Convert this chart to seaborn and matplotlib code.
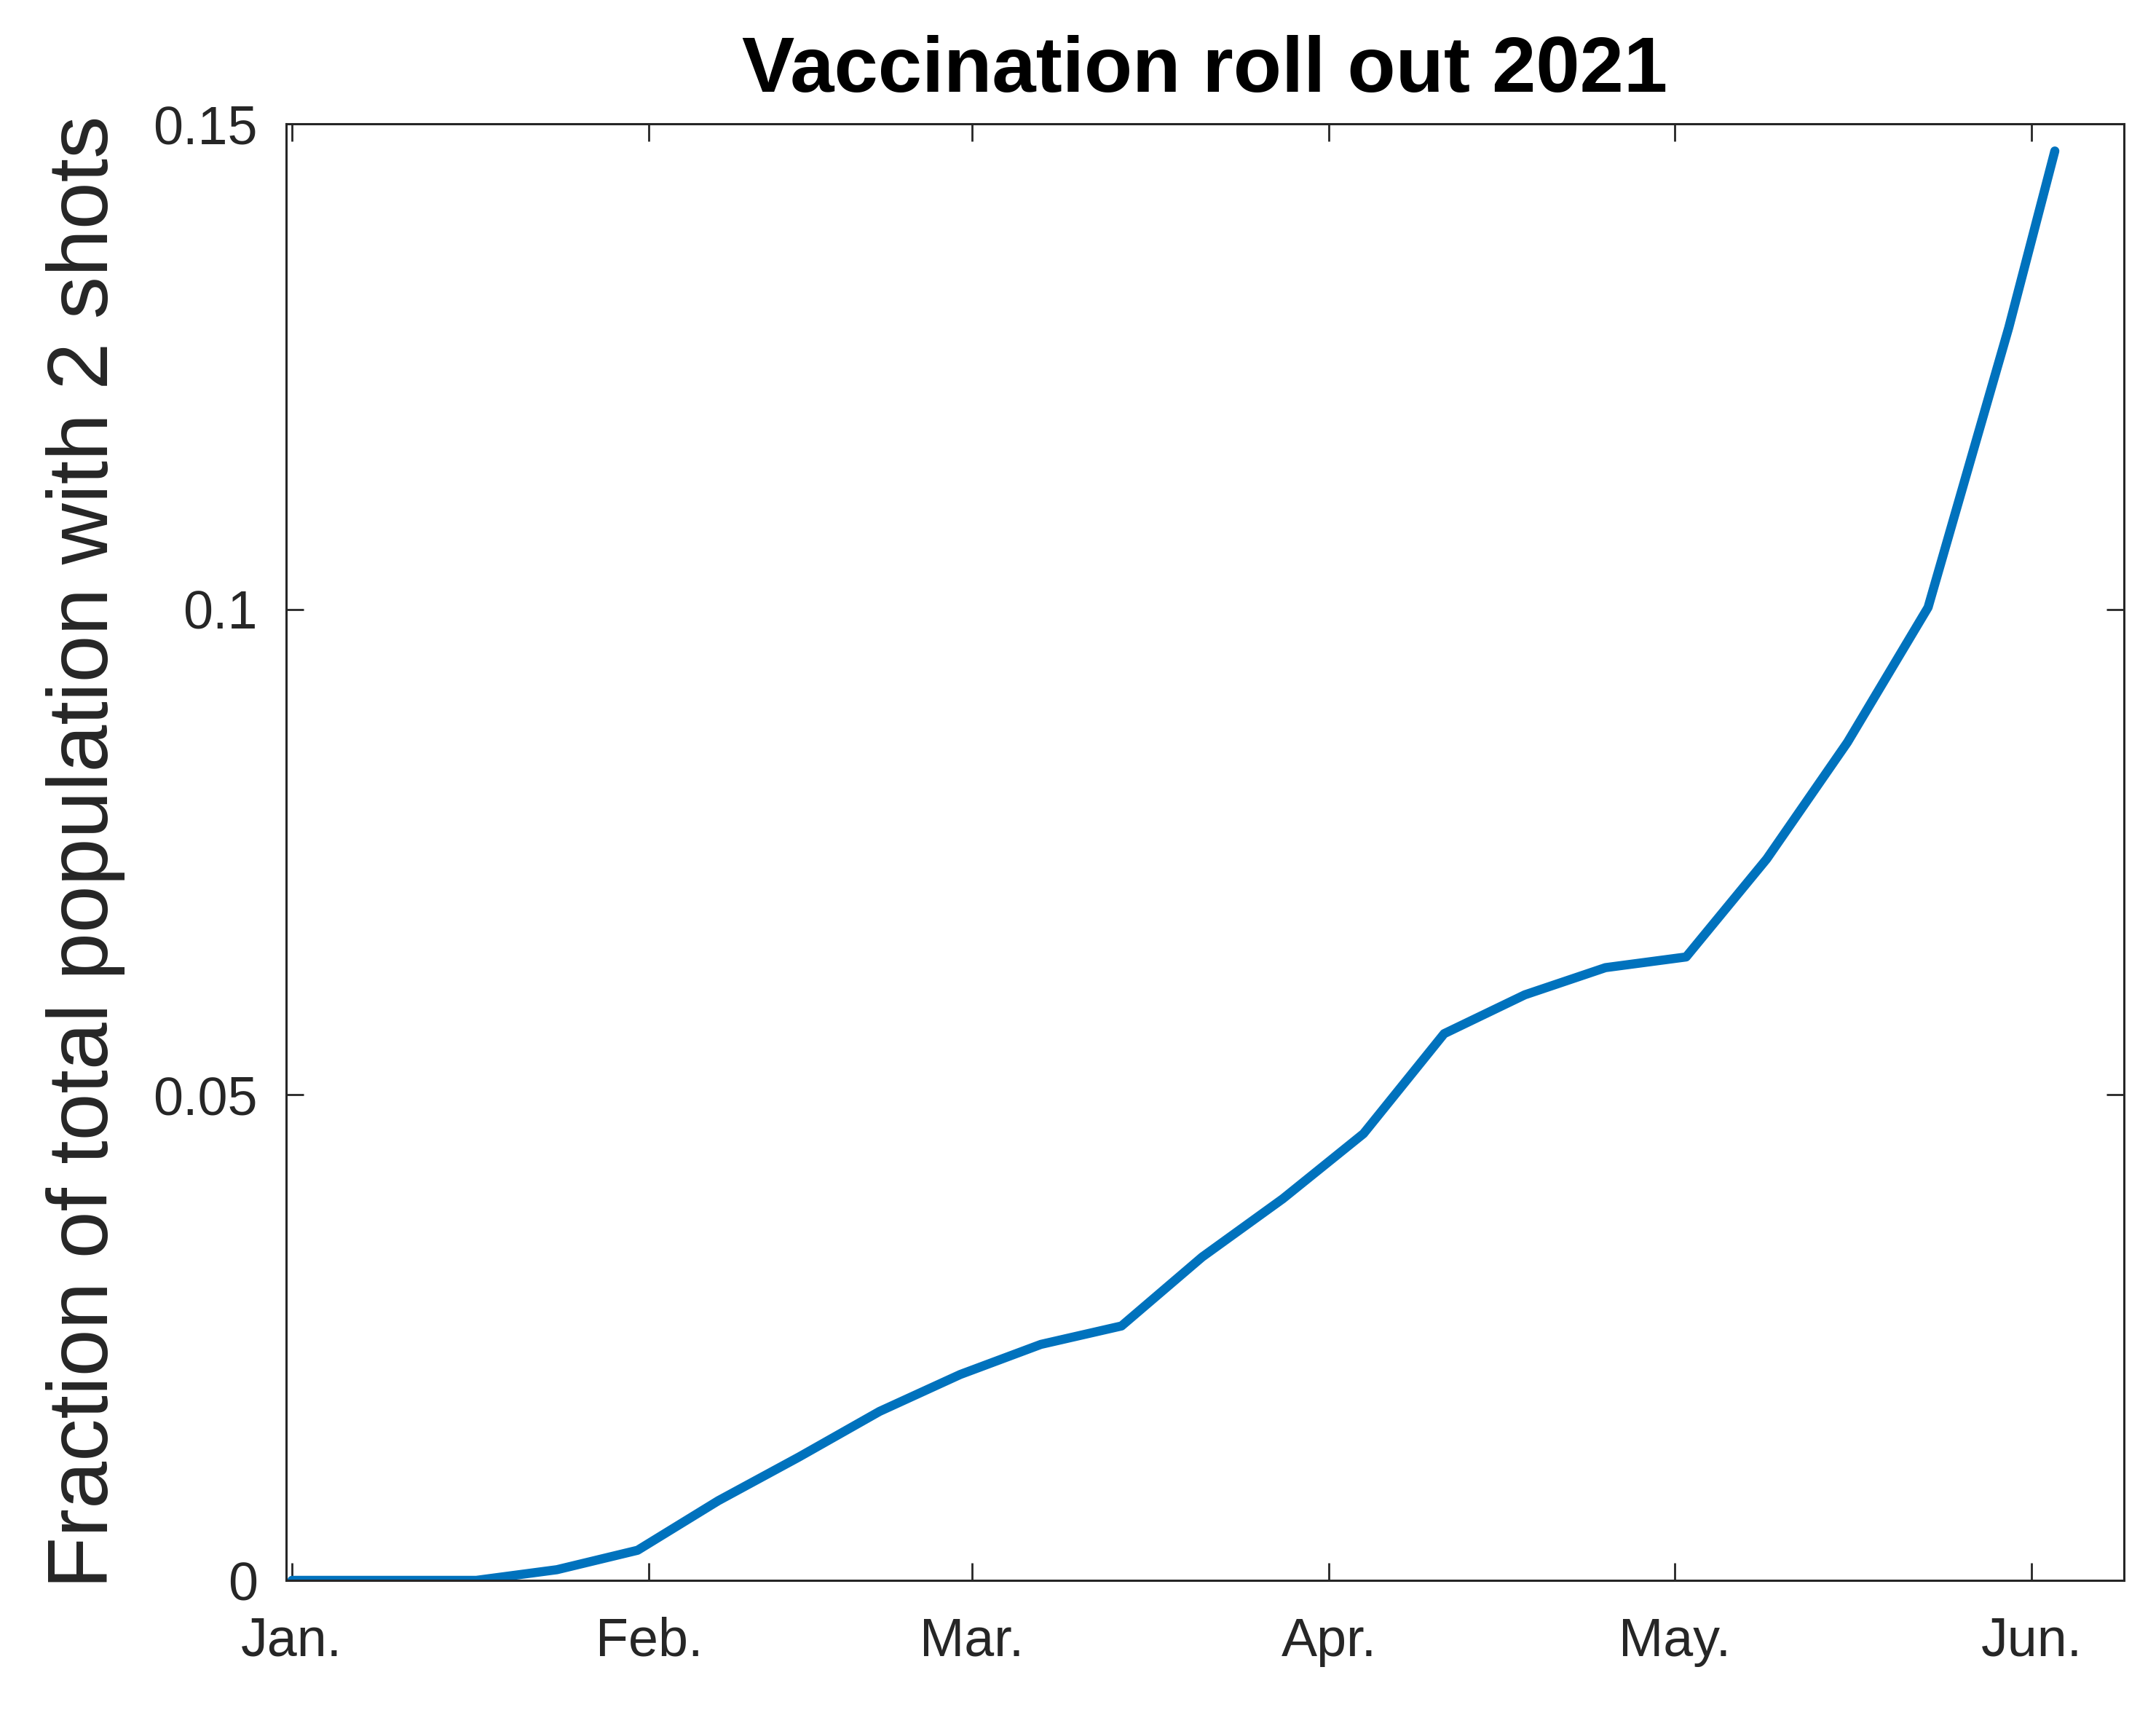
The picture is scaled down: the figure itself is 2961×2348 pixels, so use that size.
import pandas as pd
import matplotlib
matplotlib.use("Agg")
import matplotlib.pyplot as plt
import seaborn as sns

# day of year (Jan 1 = 0) and fraction of population fully vaccinated
days = [0, 16, 23, 30, 37, 44, 51, 58, 65, 72, 79, 86, 93, 100, 107, 114, 121, 128, 135, 142, 149, 153]
fraction = [0.0, 0.0, 0.0011, 0.0031, 0.0082, 0.0127, 0.0174, 0.0212, 0.0243, 0.0262,
            0.0333, 0.0393, 0.0460, 0.0563, 0.0603, 0.0631, 0.0642, 0.0743, 0.0863,
            0.1002, 0.1290, 0.1472]

month_ticks = [0, 31, 59, 90, 120, 151]
month_labels = ["Jan.", "Feb.", "Mar.", "Apr.", "May.", "Jun."]
y_ticks = [0, 0.05, 0.1, 0.15]
y_labels = ["0", "0.05", "0.1", "0.15"]

sns.set_style("ticks")
plt.rcParams["font.family"] = ["Liberation Sans", "DejaVu Sans"]

df = pd.DataFrame({"day": days, "fraction": fraction})

fig = plt.figure(figsize=(29.61, 23.48), dpi=100)
ax = fig.add_axes([393 / 2961, 1 - 2170 / 2348, (2917 - 393) / 2961, (2170 - 170) / 2348])

sns.lineplot(data=df, x="day", y="fraction", ax=ax, color="#0072BD", linewidth=9)

ax.set_xlim(-0.5, 159)
ax.set_ylim(0, 0.15)
ax.set_xticks(month_ticks)
ax.set_xticklabels(month_labels)
ax.set_yticks(y_ticks)
ax.set_yticklabels(y_labels)

ax.tick_params(axis="both", direction="in", length=17, width=2, color="#262626",
               labelsize=53, labelcolor="#262626", top=True, right=True)
ax.tick_params(axis="x", pad=36)
ax.tick_params(axis="y", pad=28)
for side in ["left", "right", "top", "bottom"]:
    ax.spines[side].set_visible(True)
    ax.spines[side].set_linewidth(2.2)
    ax.spines[side].set_color("#262626")

ax.set_xlabel("")
ax.set_ylabel("Fraction of total population with 2 shots", fontsize=84, labelpad=28, color="#262626")
ax.set_title("Vaccination roll out 2021", fontsize=78, fontweight="bold", pad=32, color="black")

fig.savefig("out.png", dpi=100)
